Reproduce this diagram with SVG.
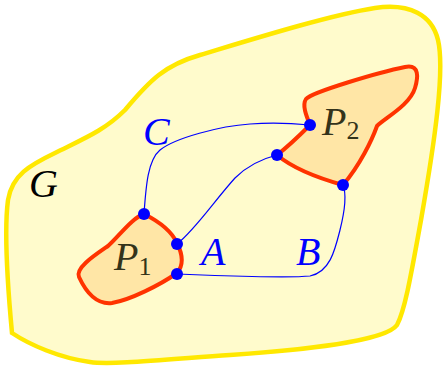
<svg xmlns="http://www.w3.org/2000/svg" width="443" height="371" viewBox="0 0 443 371">
<style>
.lbl{font-family:"Liberation Serif","DejaVu Serif",serif;font-style:italic;font-size:40px}
.sub{font-family:"Liberation Serif","DejaVu Serif",serif;font-size:26px}
.blue{fill:#0000ff}
.region{fill:#ffe6a6;stroke:#ff3300;stroke-width:4;stroke-linejoin:round}
.conn{fill:none;stroke:#0000ff;stroke-width:1.2}
.dot{fill:#0000ff}
</style>
<rect width="443" height="371" fill="#ffffff"/>
<g id="G">
<path d="M 12,333 C 8,290 4,230 8,200 C 12,175 30,165 55,153 C 85,138 105,130 125,110 C 150,80 165,65 200,55 C 250,40 330,15 375,8 C 410,3 432,15 438,40 C 445,70 435,140 421,220 C 411,275 405,310 397,325 C 385,342 300,350 230,355 C 160,360 110,365 90,362 C 60,358 30,345 12,333 Z" fill="#fffbcc" stroke="#ffe800" stroke-width="4.5"/>
<text class="lbl" x="29" y="197" fill="#000">G</text>
</g>
<g id="P1">
<path class="region" d="M 144,214 C 160,222 172,232 177,243 C 183,255 184,265 177,273 C 160,285 130,300 112,303 C 95,305 85,290 79,277 C 75,268 95,255 108,246 C 120,235 132,218 144,214 Z"/>
<text x="114" y="270" fill="#33331a"><tspan class="lbl">P</tspan><tspan class="sub" dy="5">1</tspan></text>
</g>
<g id="P2">
<path class="region" d="M 310,125 C 306,115 302,105 306,99 C 312,92 380,72 405,67 C 420,64 418,78 415,88 C 410,105 385,118 377,126 C 372,140 360,165 343,185 C 325,180 295,170 277,155 C 290,145 300,135 310,125 Z"/>
<text x="322" y="135" fill="#33331a"><tspan class="lbl">P</tspan><tspan class="sub" dy="4">2</tspan></text>
</g>
<g id="connectors">
<path class="conn" d="M 144,214 C 146,185 148,160 160,150 C 175,138 220,126 250,124 C 275,122 300,124 310,125"/>
<path class="conn" d="M 177,244 C 195,230 215,200 235,178 C 250,163 265,158 277,155"/>
<path class="conn" d="M 177,274 C 220,276 290,278 310,276 C 330,272 335,250 340,230 C 345,210 347,195 343,185"/>
</g>
<g id="labels">
<text class="lbl blue" x="143" y="145">C</text>
<text class="lbl blue" x="201" y="265">A</text>
<text class="lbl blue" x="296" y="265">B</text>
</g>
<g id="dots">
<circle class="dot" cx="144" cy="214" r="6"/>
<circle class="dot" cx="177" cy="244" r="6"/>
<circle class="dot" cx="177" cy="274" r="6"/>
<circle class="dot" cx="310" cy="125" r="6"/>
<circle class="dot" cx="277" cy="155" r="6"/>
<circle class="dot" cx="343" cy="185" r="6"/>
</g>
</svg>
